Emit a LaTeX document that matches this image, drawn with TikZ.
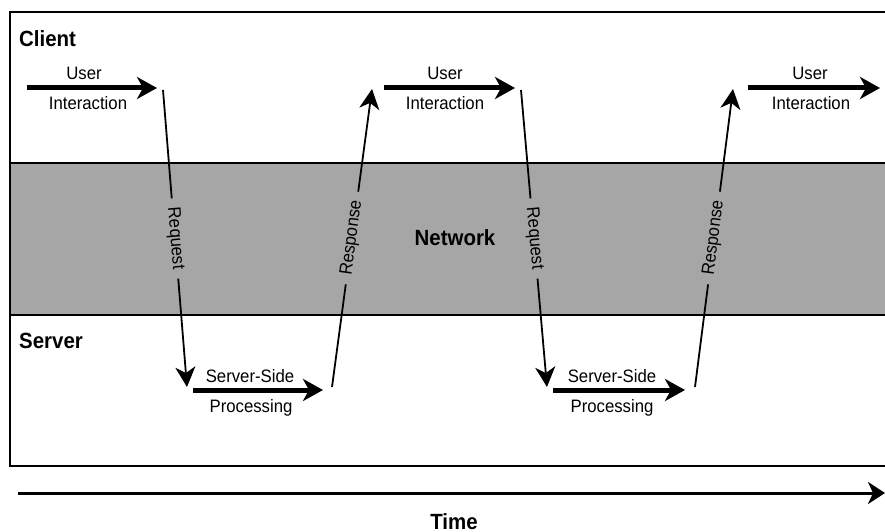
\documentclass[tikz,border=0pt]{standalone}
\usepackage{fontspec}
\setmainfont{Liberation Sans}[FakeStretch=0.93]
\usetikzlibrary{arrows.meta}
\definecolor{netgray}{RGB}{166,166,166}
\begin{document}
\begin{tikzpicture}[x=1pt,y=-1pt,
  lbl/.style={font=\fontsize{18}{20}\selectfont, inner sep=0pt, anchor=base},
  head/.style={font=\bfseries\fontsize{22}{24}\selectfont, inner sep=0pt, anchor=base},
  flow/.style={line width=5pt, -{Stealth[length=20pt,width=22pt,inset=6pt]}},
  msg/.style={line width=1.8pt, -{Stealth[length=20pt,width=20pt,inset=6pt]}},
  tag/.style={font=\fontsize{18}{20}\selectfont, sloped, fill=netgray, inner xsep=9pt, inner ysep=3pt},
  frame/.style={line width=2pt}
]
\clip (0,0) rectangle (885,532);

% lanes
\fill[netgray] (10,163) rectangle (900,315);
\draw[frame] (10,12) rectangle (900,466);
\draw[frame] (10,163) -- (900,163) (10,315) -- (900,315);

% lane titles
\node[head, anchor=base west] (client) at (19,47) {Client};
\node[head, anchor=base west] (server) at (19,348) {Server};
\node[head] (network) at (455,245) {Network};

% anchor points of the flow
\coordinate (ua1) at (27,88);   \coordinate (ub1) at (157,88);
\coordinate (rq1a) at (163,90); \coordinate (rq1b) at (187,387);
\coordinate (sa1) at (193,390); \coordinate (sb1) at (323,390);
\coordinate (rs1a) at (332,387);\coordinate (rs1b) at (372,89);
\coordinate (ua2) at (384,88);  \coordinate (ub2) at (515,88);
\coordinate (rq2a) at (521,90); \coordinate (rq2b) at (547,387);
\coordinate (sa2) at (553,390); \coordinate (sb2) at (685,390);
\coordinate (rs2a) at (695,387);\coordinate (rs2b) at (733,89);
\coordinate (ua3) at (748,88);  \coordinate (ub3) at (880,88);

% user interaction on the client
\draw[flow] (ua1) -- (ub1);
\draw[flow] (ua2) -- (ub2);
\draw[flow] (ua3) -- (ub3);
\node[lbl] (u1) at (84,80) {User};
\node[lbl] (i1) at (88,110) {Interaction};
\node[lbl] (u2) at (445,80) {User};
\node[lbl] (i2) at (445,110) {Interaction};
\node[lbl] (u3) at (810,80) {User};
\node[lbl] (i3) at (811,110) {Interaction};

% processing on the server
\draw[flow] (sa1) -- (sb1);
\draw[flow] (sa2) -- (sb2);
\node[lbl] (s1) at (250,382) {Server-Side};
\node[lbl] (p1) at (251,412) {Processing};
\node[lbl] (s2) at (612,382) {Server-Side};
\node[lbl] (p2) at (612,412) {Processing};

% messages across the network
\draw[msg] (rq1a) -- node[tag, midway] (req1) {Request} (rq1b);
\draw[msg] (rs1a) -- node[tag, midway] (resp1) {Response} (rs1b);
\draw[msg] (rq2a) -- node[tag, midway] (req2) {Request} (rq2b);
\draw[msg] (rs2a) -- node[tag, midway] (resp2) {Response} (rs2b);

% time axis
\coordinate (t0) at (18,493);
\coordinate (t1) at (885,493);
\draw[line width=3pt, -{Stealth[length=17pt,width=22pt,inset=5pt]}] (t0) -- (t1);
\node[head] (time) at (454,529) {Time};
\end{tikzpicture}
\end{document}
